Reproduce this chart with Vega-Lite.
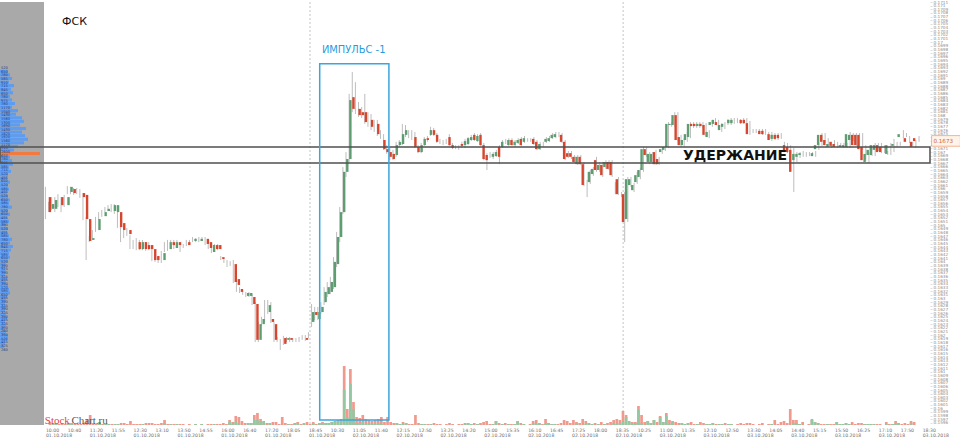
{
"$schema":"https://vega.github.io/schema/vega-lite/v6.json",
"width":930,"height":423,"autosize":"none",
"padding":{"left":0,"top":2,"right":30,"bottom":13},
"background":"#ffffff",
"config":{"view":{"stroke":null},"font":"DejaVu Sans"},
"resolve":{"scale":{"x":"independent","y":"independent"}},
"datasets":{
"candles":[
{"i":0,"o":0.16577,"c":0.16536,"h":0.16605,"l":0.16517,"v":3,"g":0},
{"i":1,"o":0.16545,"c":0.16558,"h":0.16564,"l":0.16536,"v":2,"g":2},
{"i":2,"o":0.16545,"c":0.16569,"h":0.16577,"l":0.16542,"v":2,"g":2},
{"i":3,"o":0.16566,"c":0.16566,"h":0.16577,"l":0.16536,"v":1,"g":0},
{"i":4,"o":0.16577,"c":0.16555,"h":0.16585,"l":0.16550,"v":2,"g":0},
{"i":5,"o":0.16555,"c":0.16555,"h":0.16577,"l":0.16536,"v":1,"g":0},
{"i":6,"o":0.16555,"c":0.16577,"h":0.16583,"l":0.16550,"v":2,"g":2},
{"i":7,"o":0.16591,"c":0.16605,"h":0.16607,"l":0.16585,"v":2,"g":2},
{"i":8,"o":0.16599,"c":0.16588,"h":0.16605,"l":0.16585,"v":1,"g":0},
{"i":9,"o":0.16594,"c":0.16594,"h":0.16602,"l":0.16583,"v":1,"g":0},
{"i":10,"o":0.16594,"c":0.16594,"h":0.16602,"l":0.16585,"v":1,"g":0},
{"i":11,"o":0.16588,"c":0.16577,"h":0.16599,"l":0.16575,"v":2,"g":0},
{"i":12,"o":0.16583,"c":0.16517,"h":0.16588,"l":0.16514,"v":6,"g":0},
{"i":13,"o":0.16517,"c":0.16457,"h":0.16523,"l":0.16405,"v":10,"g":0},
{"i":14,"o":0.16460,"c":0.16465,"h":0.16471,"l":0.16454,"v":2,"g":0},
{"i":15,"o":0.16476,"c":0.16476,"h":0.16487,"l":0.16465,"v":1,"g":0},
{"i":16,"o":0.16487,"c":0.16517,"h":0.16523,"l":0.16482,"v":3,"g":3},
{"i":17,"o":0.16528,"c":0.16528,"h":0.16536,"l":0.16514,"v":1,"g":0},
{"i":18,"o":0.16525,"c":0.16536,"h":0.16542,"l":0.16523,"v":1,"g":1},
{"i":19,"o":0.16539,"c":0.16545,"h":0.16550,"l":0.16536,"v":1,"g":1},
{"i":20,"o":0.16547,"c":0.16547,"h":0.16555,"l":0.16539,"v":1,"g":0},
{"i":21,"o":0.16539,"c":0.16555,"h":0.16558,"l":0.16536,"v":1,"g":1},
{"i":22,"o":0.16536,"c":0.16555,"h":0.16558,"l":0.16531,"v":1,"g":1},
{"i":23,"o":0.16536,"c":0.16495,"h":0.16555,"l":0.16493,"v":2,"g":0},
{"i":24,"o":0.16506,"c":0.16487,"h":0.16514,"l":0.16454,"v":2,"g":0},
{"i":25,"o":0.16487,"c":0.16487,"h":0.16495,"l":0.16465,"v":1,"g":0},
{"i":26,"o":0.16487,"c":0.16476,"h":0.16493,"l":0.16471,"v":4,"g":0},
{"i":27,"o":0.16454,"c":0.16454,"h":0.16473,"l":0.16435,"v":1,"g":0},
{"i":28,"o":0.16446,"c":0.16446,"h":0.16460,"l":0.16435,"v":1,"g":0},
{"i":29,"o":0.16454,"c":0.16435,"h":0.16465,"l":0.16432,"v":1,"g":0},
{"i":30,"o":0.16435,"c":0.16454,"h":0.16460,"l":0.16432,"v":1,"g":1},
{"i":31,"o":0.16454,"c":0.16435,"h":0.16460,"l":0.16432,"v":2,"g":0},
{"i":32,"o":0.16446,"c":0.16435,"h":0.16454,"l":0.16430,"v":2,"g":0},
{"i":33,"o":0.16446,"c":0.16435,"h":0.16454,"l":0.16432,"v":2,"g":0},
{"i":34,"o":0.16435,"c":0.16405,"h":0.16441,"l":0.16402,"v":1,"g":0},
{"i":35,"o":0.16416,"c":0.16405,"h":0.16427,"l":0.16400,"v":1,"g":0},
{"i":36,"o":0.16405,"c":0.16405,"h":0.16413,"l":0.16397,"v":2,"g":0},
{"i":37,"o":0.16405,"c":0.16424,"h":0.16430,"l":0.16397,"v":5,"g":2},
{"i":38,"o":0.16441,"c":0.16441,"h":0.16454,"l":0.16427,"v":1,"g":0},
{"i":39,"o":0.16435,"c":0.16454,"h":0.16460,"l":0.16430,"v":1,"g":1},
{"i":40,"o":0.16454,"c":0.16446,"h":0.16460,"l":0.16441,"v":1,"g":0},
{"i":41,"o":0.16438,"c":0.16454,"h":0.16460,"l":0.16435,"v":1,"g":1},
{"i":42,"o":0.16454,"c":0.16446,"h":0.16460,"l":0.16441,"v":1,"g":0},
{"i":43,"o":0.16438,"c":0.16438,"h":0.16446,"l":0.16427,"v":1,"g":0},
{"i":44,"o":0.16443,"c":0.16443,"h":0.16449,"l":0.16438,"v":0,"g":0},
{"i":45,"o":0.16454,"c":0.16446,"h":0.16460,"l":0.16443,"v":1,"g":0},
{"i":46,"o":0.16454,"c":0.16454,"h":0.16460,"l":0.16449,"v":0,"g":0},
{"i":47,"o":0.16457,"c":0.16463,"h":0.16468,"l":0.16454,"v":1,"g":1},
{"i":48,"o":0.16460,"c":0.16460,"h":0.16465,"l":0.16454,"v":0,"g":0},
{"i":49,"o":0.16457,"c":0.16463,"h":0.16468,"l":0.16454,"v":1,"g":1},
{"i":50,"o":0.16463,"c":0.16463,"h":0.16468,"l":0.16457,"v":0,"g":0},
{"i":51,"o":0.16463,"c":0.16449,"h":0.16468,"l":0.16446,"v":1,"g":0},
{"i":52,"o":0.16454,"c":0.16438,"h":0.16460,"l":0.16435,"v":1,"g":0},
{"i":53,"o":0.16427,"c":0.16446,"h":0.16449,"l":0.16424,"v":1,"g":1},
{"i":54,"o":0.16446,"c":0.16435,"h":0.16449,"l":0.16432,"v":1,"g":0},
{"i":55,"o":0.16446,"c":0.16435,"h":0.16449,"l":0.16432,"v":1,"g":0},
{"i":56,"o":0.16413,"c":0.16408,"h":0.16416,"l":0.16405,"v":2,"g":0},
{"i":57,"o":0.16402,"c":0.16402,"h":0.16408,"l":0.16397,"v":1,"g":0},
{"i":58,"o":0.16400,"c":0.16400,"h":0.16405,"l":0.16386,"v":5,"g":3},
{"i":59,"o":0.16394,"c":0.16394,"h":0.16402,"l":0.16389,"v":3,"g":1},
{"i":60,"o":0.16394,"c":0.16345,"h":0.16405,"l":0.16342,"v":9,"g":3},
{"i":61,"o":0.16353,"c":0.16337,"h":0.16359,"l":0.16318,"v":8,"g":2},
{"i":62,"o":0.16326,"c":0.16318,"h":0.16331,"l":0.16315,"v":4,"g":0},
{"i":63,"o":0.16315,"c":0.16315,"h":0.16320,"l":0.16310,"v":2,"g":0},
{"i":64,"o":0.16307,"c":0.16315,"h":0.16318,"l":0.16304,"v":2,"g":2},
{"i":65,"o":0.16307,"c":0.16315,"h":0.16318,"l":0.16304,"v":2,"g":2},
{"i":66,"o":0.16304,"c":0.16285,"h":0.16310,"l":0.16282,"v":10,"g":5},
{"i":67,"o":0.16285,"c":0.16187,"h":0.16290,"l":0.16181,"v":12,"g":5},
{"i":68,"o":0.16187,"c":0.16230,"h":0.16236,"l":0.16181,"v":6,"g":4},
{"i":69,"o":0.16230,"c":0.16244,"h":0.16250,"l":0.16225,"v":4,"g":3},
{"i":70,"o":0.16263,"c":0.16263,"h":0.16296,"l":0.16236,"v":2,"g":0},
{"i":71,"o":0.16263,"c":0.16282,"h":0.16296,"l":0.16258,"v":2,"g":2},
{"i":72,"o":0.16244,"c":0.16236,"h":0.16290,"l":0.16233,"v":3,"g":0},
{"i":73,"o":0.16230,"c":0.16187,"h":0.16236,"l":0.16181,"v":3,"g":0},
{"i":74,"o":0.16187,"c":0.16187,"h":0.16195,"l":0.16181,"v":1,"g":0},
{"i":75,"o":0.16181,"c":0.16181,"h":0.16189,"l":0.16159,"v":8,"g":0},
{"i":76,"o":0.16192,"c":0.16176,"h":0.16198,"l":0.16173,"v":2,"g":0},
{"i":77,"o":0.16187,"c":0.16192,"h":0.16195,"l":0.16181,"v":1,"g":1},
{"i":78,"o":0.16192,"c":0.16187,"h":0.16195,"l":0.16181,"v":1,"g":0},
{"i":79,"o":0.16187,"c":0.16187,"h":0.16192,"l":0.16181,"v":2,"g":1},
{"i":80,"o":0.16187,"c":0.16187,"h":0.16192,"l":0.16181,"v":3,"g":2},
{"i":81,"o":0.16187,"c":0.16187,"h":0.16195,"l":0.16181,"v":1,"g":0},
{"i":82,"o":0.16192,"c":0.16192,"h":0.16200,"l":0.16187,"v":2,"g":1},
{"i":83,"o":0.16192,"c":0.16187,"h":0.16200,"l":0.16184,"v":3,"g":0},
{"i":84,"o":0.16200,"c":0.16200,"h":0.16208,"l":0.16192,"v":1,"g":0},
{"i":85,"o":0.16236,"c":0.16263,"h":0.16285,"l":0.16222,"v":3,"g":2},
{"i":86,"o":0.16263,"c":0.16255,"h":0.16277,"l":0.16241,"v":1,"g":0},
{"i":87,"o":0.16244,"c":0.16263,"h":0.16277,"l":0.16241,"v":2,"g":2},
{"i":88,"o":0.16263,"c":0.16277,"h":0.16290,"l":0.16258,"v":3,"g":2},
{"i":89,"o":0.16290,"c":0.16318,"h":0.16331,"l":0.16282,"v":2,"g":2},
{"i":90,"o":0.16312,"c":0.16331,"h":0.16345,"l":0.16304,"v":2,"g":2},
{"i":91,"o":0.16318,"c":0.16345,"h":0.16359,"l":0.16312,"v":3,"g":3},
{"i":92,"o":0.16331,"c":0.16400,"h":0.16413,"l":0.16326,"v":4,"g":3},
{"i":93,"o":0.16394,"c":0.16468,"h":0.16482,"l":0.16386,"v":5,"g":4},
{"i":94,"o":0.16468,"c":0.16536,"h":0.16550,"l":0.16454,"v":6,"g":4},
{"i":95,"o":0.16536,"c":0.16646,"h":0.16659,"l":0.16531,"v":59,"g":35},
{"i":96,"o":0.16646,"c":0.16681,"h":0.16700,"l":0.16632,"v":16,"g":8},
{"i":97,"o":0.16681,"c":0.16842,"h":0.16859,"l":0.16673,"v":56,"g":41},
{"i":98,"o":0.16850,"c":0.16818,"h":0.16919,"l":0.16809,"v":23,"g":16},
{"i":99,"o":0.16818,"c":0.16818,"h":0.16891,"l":0.16804,"v":8,"g":2},
{"i":100,"o":0.16818,"c":0.16801,"h":0.16837,"l":0.16796,"v":7,"g":2},
{"i":101,"o":0.16809,"c":0.16801,"h":0.16823,"l":0.16793,"v":10,"g":3},
{"i":102,"o":0.16809,"c":0.16782,"h":0.16859,"l":0.16777,"v":6,"g":1},
{"i":103,"o":0.16782,"c":0.16782,"h":0.16809,"l":0.16769,"v":5,"g":2},
{"i":104,"o":0.16788,"c":0.16769,"h":0.16804,"l":0.16760,"v":4,"g":1},
{"i":105,"o":0.16769,"c":0.16769,"h":0.16788,"l":0.16755,"v":5,"g":1},
{"i":106,"o":0.16777,"c":0.16749,"h":0.16788,"l":0.16744,"v":6,"g":2},
{"i":107,"o":0.16747,"c":0.16747,"h":0.16760,"l":0.16736,"v":8,"g":1},
{"i":108,"o":0.16733,"c":0.16708,"h":0.16749,"l":0.16706,"v":3,"g":0},
{"i":109,"o":0.16708,"c":0.16700,"h":0.16719,"l":0.16695,"v":8,"g":0},
{"i":110,"o":0.16700,"c":0.16687,"h":0.16714,"l":0.16678,"v":3,"g":0},
{"i":111,"o":0.16695,"c":0.16681,"h":0.16706,"l":0.16678,"v":2,"g":0},
{"i":112,"o":0.16692,"c":0.16719,"h":0.16728,"l":0.16687,"v":2,"g":2},
{"i":113,"o":0.16719,"c":0.16728,"h":0.16733,"l":0.16714,"v":1,"g":1},
{"i":114,"o":0.16722,"c":0.16749,"h":0.16777,"l":0.16719,"v":3,"g":1},
{"i":115,"o":0.16747,"c":0.16760,"h":0.16774,"l":0.16741,"v":2,"g":2},
{"i":116,"o":0.16747,"c":0.16747,"h":0.16760,"l":0.16738,"v":1,"g":0},
{"i":117,"o":0.16747,"c":0.16747,"h":0.16760,"l":0.16733,"v":1,"g":0},
{"i":118,"o":0.16741,"c":0.16714,"h":0.16755,"l":0.16711,"v":10,"g":0},
{"i":119,"o":0.16714,"c":0.16700,"h":0.16719,"l":0.16697,"v":2,"g":0},
{"i":120,"o":0.16700,"c":0.16719,"h":0.16725,"l":0.16697,"v":1,"g":1},
{"i":121,"o":0.16719,"c":0.16736,"h":0.16741,"l":0.16717,"v":1,"g":1},
{"i":122,"o":0.16738,"c":0.16733,"h":0.16744,"l":0.16728,"v":1,"g":0},
{"i":123,"o":0.16747,"c":0.16760,"h":0.16769,"l":0.16744,"v":1,"g":1},
{"i":124,"o":0.16760,"c":0.16747,"h":0.16766,"l":0.16744,"v":2,"g":0},
{"i":125,"o":0.16747,"c":0.16728,"h":0.16752,"l":0.16725,"v":1,"g":0},
{"i":126,"o":0.16728,"c":0.16728,"h":0.16736,"l":0.16722,"v":1,"g":0},
{"i":127,"o":0.16728,"c":0.16728,"h":0.16733,"l":0.16719,"v":0,"g":0},
{"i":128,"o":0.16728,"c":0.16728,"h":0.16736,"l":0.16722,"v":1,"g":0},
{"i":129,"o":0.16741,"c":0.16719,"h":0.16749,"l":0.16717,"v":2,"g":0},
{"i":130,"o":0.16719,"c":0.16711,"h":0.16725,"l":0.16708,"v":1,"g":0},
{"i":131,"o":0.16714,"c":0.16714,"h":0.16719,"l":0.16708,"v":0,"g":0},
{"i":132,"o":0.16714,"c":0.16714,"h":0.16719,"l":0.16706,"v":1,"g":0},
{"i":133,"o":0.16722,"c":0.16717,"h":0.16728,"l":0.16711,"v":1,"g":0},
{"i":134,"o":0.16719,"c":0.16730,"h":0.16736,"l":0.16711,"v":2,"g":1},
{"i":135,"o":0.16722,"c":0.16738,"h":0.16741,"l":0.16719,"v":2,"g":2},
{"i":136,"o":0.16733,"c":0.16741,"h":0.16747,"l":0.16730,"v":1,"g":1},
{"i":137,"o":0.16747,"c":0.16733,"h":0.16752,"l":0.16730,"v":2,"g":0},
{"i":138,"o":0.16730,"c":0.16744,"h":0.16749,"l":0.16728,"v":1,"g":1},
{"i":139,"o":0.16747,"c":0.16719,"h":0.16752,"l":0.16717,"v":2,"g":0},
{"i":140,"o":0.16719,"c":0.16681,"h":0.16725,"l":0.16678,"v":3,"g":0},
{"i":141,"o":0.16692,"c":0.16678,"h":0.16697,"l":0.16651,"v":4,"g":0},
{"i":142,"o":0.16692,"c":0.16692,"h":0.16700,"l":0.16684,"v":1,"g":0},
{"i":143,"o":0.16687,"c":0.16695,"h":0.16700,"l":0.16681,"v":1,"g":1},
{"i":144,"o":0.16689,"c":0.16700,"h":0.16706,"l":0.16687,"v":4,"g":4},
{"i":145,"o":0.16714,"c":0.16687,"h":0.16719,"l":0.16667,"v":2,"g":0},
{"i":146,"o":0.16714,"c":0.16728,"h":0.16733,"l":0.16711,"v":1,"g":1},
{"i":147,"o":0.16728,"c":0.16728,"h":0.16736,"l":0.16722,"v":2,"g":0},
{"i":148,"o":0.16719,"c":0.16733,"h":0.16738,"l":0.16717,"v":1,"g":1},
{"i":149,"o":0.16733,"c":0.16719,"h":0.16738,"l":0.16717,"v":1,"g":0},
{"i":150,"o":0.16719,"c":0.16728,"h":0.16733,"l":0.16714,"v":1,"g":1},
{"i":151,"o":0.16725,"c":0.16733,"h":0.16738,"l":0.16722,"v":4,"g":4},
{"i":152,"o":0.16736,"c":0.16719,"h":0.16741,"l":0.16717,"v":2,"g":0},
{"i":153,"o":0.16728,"c":0.16738,"h":0.16744,"l":0.16725,"v":1,"g":1},
{"i":154,"o":0.16733,"c":0.16733,"h":0.16738,"l":0.16728,"v":0,"g":0},
{"i":155,"o":0.16733,"c":0.16733,"h":0.16738,"l":0.16728,"v":1,"g":0},
{"i":156,"o":0.16736,"c":0.16722,"h":0.16741,"l":0.16719,"v":4,"g":2},
{"i":157,"o":0.16728,"c":0.16708,"h":0.16733,"l":0.16706,"v":5,"g":1},
{"i":158,"o":0.16708,"c":0.16722,"h":0.16728,"l":0.16706,"v":2,"g":2},
{"i":159,"o":0.16719,"c":0.16719,"h":0.16728,"l":0.16714,"v":1,"g":0},
{"i":160,"o":0.16728,"c":0.16736,"h":0.16741,"l":0.16725,"v":6,"g":1},
{"i":161,"o":0.16730,"c":0.16738,"h":0.16744,"l":0.16728,"v":2,"g":2},
{"i":162,"o":0.16738,"c":0.16747,"h":0.16752,"l":0.16736,"v":1,"g":1},
{"i":163,"o":0.16741,"c":0.16749,"h":0.16755,"l":0.16738,"v":1,"g":1},
{"i":164,"o":0.16747,"c":0.16747,"h":0.16755,"l":0.16741,"v":1,"g":0},
{"i":165,"o":0.16747,"c":0.16728,"h":0.16752,"l":0.16725,"v":2,"g":0},
{"i":166,"o":0.16728,"c":0.16681,"h":0.16733,"l":0.16678,"v":5,"g":0},
{"i":167,"o":0.16697,"c":0.16687,"h":0.16703,"l":0.16684,"v":4,"g":0},
{"i":168,"o":0.16697,"c":0.16687,"h":0.16703,"l":0.16681,"v":2,"g":0},
{"i":169,"o":0.16687,"c":0.16673,"h":0.16692,"l":0.16670,"v":5,"g":0},
{"i":170,"o":0.16667,"c":0.16687,"h":0.16692,"l":0.16665,"v":3,"g":2},
{"i":171,"o":0.16687,"c":0.16667,"h":0.16692,"l":0.16665,"v":2,"g":0},
{"i":172,"o":0.16667,"c":0.16610,"h":0.16673,"l":0.16607,"v":6,"g":0},
{"i":173,"o":0.16613,"c":0.16613,"h":0.16624,"l":0.16577,"v":4,"g":1},
{"i":174,"o":0.16618,"c":0.16646,"h":0.16651,"l":0.16613,"v":2,"g":2},
{"i":175,"o":0.16640,"c":0.16654,"h":0.16659,"l":0.16635,"v":1,"g":1},
{"i":176,"o":0.16678,"c":0.16651,"h":0.16687,"l":0.16646,"v":2,"g":0},
{"i":177,"o":0.16651,"c":0.16665,"h":0.16673,"l":0.16646,"v":1,"g":1},
{"i":178,"o":0.16665,"c":0.16637,"h":0.16673,"l":0.16632,"v":3,"g":0},
{"i":179,"o":0.16659,"c":0.16673,"h":0.16678,"l":0.16654,"v":1,"g":1},
{"i":180,"o":0.16673,"c":0.16654,"h":0.16678,"l":0.16651,"v":2,"g":0},
{"i":181,"o":0.16673,"c":0.16637,"h":0.16678,"l":0.16632,"v":3,"g":0},
{"i":182,"o":0.16605,"c":0.16605,"h":0.16618,"l":0.16585,"v":5,"g":2},
{"i":183,"o":0.16626,"c":0.16585,"h":0.16632,"l":0.16583,"v":6,"g":1},
{"i":184,"o":0.16585,"c":0.16585,"h":0.16591,"l":0.16577,"v":5,"g":2},
{"i":185,"o":0.16585,"c":0.16509,"h":0.16591,"l":0.16454,"v":14,"g":3},
{"i":186,"o":0.16517,"c":0.16626,"h":0.16632,"l":0.16509,"v":10,"g":8},
{"i":187,"o":0.16610,"c":0.16626,"h":0.16632,"l":0.16605,"v":4,"g":3},
{"i":188,"o":0.16596,"c":0.16610,"h":0.16616,"l":0.16591,"v":3,"g":2},
{"i":189,"o":0.16618,"c":0.16637,"h":0.16646,"l":0.16613,"v":3,"g":2},
{"i":190,"o":0.16632,"c":0.16651,"h":0.16657,"l":0.16626,"v":19,"g":15},
{"i":191,"o":0.16651,"c":0.16708,"h":0.16714,"l":0.16646,"v":10,"g":2},
{"i":192,"o":0.16708,"c":0.16692,"h":0.16714,"l":0.16687,"v":3,"g":0},
{"i":193,"o":0.16673,"c":0.16695,"h":0.16700,"l":0.16667,"v":4,"g":4},
{"i":194,"o":0.16673,"c":0.16695,"h":0.16700,"l":0.16667,"v":2,"g":2},
{"i":195,"o":0.16700,"c":0.16667,"h":0.16706,"l":0.16665,"v":5,"g":5},
{"i":196,"o":0.16681,"c":0.16667,"h":0.16687,"l":0.16665,"v":3,"g":0},
{"i":197,"o":0.16700,"c":0.16708,"h":0.16714,"l":0.16695,"v":9,"g":8},
{"i":198,"o":0.16706,"c":0.16714,"h":0.16719,"l":0.16703,"v":3,"g":3},
{"i":199,"o":0.16714,"c":0.16777,"h":0.16782,"l":0.16711,"v":12,"g":9},
{"i":200,"o":0.16774,"c":0.16777,"h":0.16782,"l":0.16769,"v":5,"g":1},
{"i":201,"o":0.16774,"c":0.16801,"h":0.16809,"l":0.16769,"v":4,"g":3},
{"i":202,"o":0.16801,"c":0.16733,"h":0.16809,"l":0.16730,"v":3,"g":0},
{"i":203,"o":0.16741,"c":0.16719,"h":0.16747,"l":0.16714,"v":2,"g":0},
{"i":204,"o":0.16719,"c":0.16733,"h":0.16738,"l":0.16714,"v":2,"g":2},
{"i":205,"o":0.16733,"c":0.16749,"h":0.16755,"l":0.16728,"v":1,"g":1},
{"i":206,"o":0.16741,"c":0.16777,"h":0.16782,"l":0.16738,"v":2,"g":2},
{"i":207,"o":0.16777,"c":0.16771,"h":0.16782,"l":0.16766,"v":3,"g":0},
{"i":208,"o":0.16777,"c":0.16771,"h":0.16782,"l":0.16766,"v":1,"g":0},
{"i":209,"o":0.16771,"c":0.16777,"h":0.16782,"l":0.16766,"v":1,"g":1},
{"i":210,"o":0.16777,"c":0.16771,"h":0.16782,"l":0.16766,"v":3,"g":0},
{"i":211,"o":0.16774,"c":0.16747,"h":0.16779,"l":0.16744,"v":2,"g":0},
{"i":212,"o":0.16741,"c":0.16755,"h":0.16760,"l":0.16738,"v":1,"g":1},
{"i":213,"o":0.16774,"c":0.16782,"h":0.16788,"l":0.16769,"v":1,"g":1},
{"i":214,"o":0.16777,"c":0.16788,"h":0.16793,"l":0.16774,"v":2,"g":2},
{"i":215,"o":0.16782,"c":0.16774,"h":0.16788,"l":0.16769,"v":1,"g":0},
{"i":216,"o":0.16760,"c":0.16774,"h":0.16779,"l":0.16755,"v":1,"g":1},
{"i":217,"o":0.16769,"c":0.16777,"h":0.16782,"l":0.16763,"v":1,"g":1},
{"i":218,"o":0.16782,"c":0.16782,"h":0.16790,"l":0.16774,"v":2,"g":0},
{"i":219,"o":0.16779,"c":0.16788,"h":0.16793,"l":0.16774,"v":1,"g":1},
{"i":220,"o":0.16779,"c":0.16788,"h":0.16793,"l":0.16777,"v":1,"g":1},
{"i":221,"o":0.16788,"c":0.16788,"h":0.16793,"l":0.16779,"v":0,"g":0},
{"i":222,"o":0.16782,"c":0.16782,"h":0.16790,"l":0.16777,"v":1,"g":0},
{"i":223,"o":0.16788,"c":0.16779,"h":0.16793,"l":0.16777,"v":2,"g":0},
{"i":224,"o":0.16788,"c":0.16779,"h":0.16793,"l":0.16777,"v":1,"g":0},
{"i":225,"o":0.16779,"c":0.16749,"h":0.16785,"l":0.16747,"v":2,"g":0},
{"i":226,"o":0.16758,"c":0.16758,"h":0.16763,"l":0.16752,"v":2,"g":0},
{"i":227,"o":0.16758,"c":0.16758,"h":0.16763,"l":0.16752,"v":1,"g":0},
{"i":228,"o":0.16758,"c":0.16758,"h":0.16763,"l":0.16752,"v":0,"g":0},
{"i":229,"o":0.16758,"c":0.16749,"h":0.16763,"l":0.16747,"v":1,"g":0},
{"i":230,"o":0.16758,"c":0.16749,"h":0.16763,"l":0.16747,"v":2,"g":0},
{"i":231,"o":0.16749,"c":0.16749,"h":0.16755,"l":0.16744,"v":0,"g":0},
{"i":232,"o":0.16749,"c":0.16733,"h":0.16755,"l":0.16730,"v":1,"g":0},
{"i":233,"o":0.16736,"c":0.16747,"h":0.16752,"l":0.16733,"v":1,"g":1},
{"i":234,"o":0.16747,"c":0.16736,"h":0.16752,"l":0.16733,"v":5,"g":0},
{"i":235,"o":0.16747,"c":0.16738,"h":0.16752,"l":0.16736,"v":1,"g":0},
{"i":236,"o":0.16719,"c":0.16719,"h":0.16728,"l":0.16714,"v":3,"g":0},
{"i":237,"o":0.16719,"c":0.16700,"h":0.16725,"l":0.16697,"v":4,"g":0},
{"i":238,"o":0.16714,"c":0.16700,"h":0.16719,"l":0.16697,"v":2,"g":0},
{"i":239,"o":0.16706,"c":0.16646,"h":0.16711,"l":0.16591,"v":16,"g":0},
{"i":240,"o":0.16678,"c":0.16695,"h":0.16700,"l":0.16673,"v":5,"g":2},
{"i":241,"o":0.16687,"c":0.16695,"h":0.16700,"l":0.16684,"v":5,"g":2},
{"i":242,"o":0.16692,"c":0.16697,"h":0.16703,"l":0.16687,"v":1,"g":1},
{"i":243,"o":0.16695,"c":0.16695,"h":0.16700,"l":0.16687,"v":3,"g":0},
{"i":244,"o":0.16695,"c":0.16695,"h":0.16700,"l":0.16689,"v":0,"g":0},
{"i":245,"o":0.16695,"c":0.16695,"h":0.16700,"l":0.16689,"v":1,"g":0},
{"i":246,"o":0.16689,"c":0.16697,"h":0.16703,"l":0.16687,"v":6,"g":5},
{"i":247,"o":0.16708,"c":0.16719,"h":0.16725,"l":0.16706,"v":3,"g":3},
{"i":248,"o":0.16719,"c":0.16747,"h":0.16752,"l":0.16717,"v":2,"g":2},
{"i":249,"o":0.16747,"c":0.16728,"h":0.16752,"l":0.16725,"v":1,"g":0},
{"i":250,"o":0.16733,"c":0.16719,"h":0.16738,"l":0.16717,"v":1,"g":0},
{"i":251,"o":0.16714,"c":0.16722,"h":0.16728,"l":0.16711,"v":1,"g":1},
{"i":252,"o":0.16728,"c":0.16717,"h":0.16733,"l":0.16714,"v":1,"g":0},
{"i":253,"o":0.16722,"c":0.16714,"h":0.16728,"l":0.16711,"v":1,"g":0},
{"i":254,"o":0.16719,"c":0.16719,"h":0.16725,"l":0.16714,"v":3,"g":3},
{"i":255,"o":0.16714,"c":0.16719,"h":0.16725,"l":0.16711,"v":1,"g":1},
{"i":256,"o":0.16714,"c":0.16719,"h":0.16725,"l":0.16711,"v":1,"g":1},
{"i":257,"o":0.16714,"c":0.16749,"h":0.16755,"l":0.16711,"v":2,"g":2},
{"i":258,"o":0.16733,"c":0.16747,"h":0.16752,"l":0.16730,"v":1,"g":1},
{"i":259,"o":0.16747,"c":0.16719,"h":0.16752,"l":0.16717,"v":3,"g":0},
{"i":260,"o":0.16747,"c":0.16719,"h":0.16752,"l":0.16717,"v":1,"g":0},
{"i":261,"o":0.16747,"c":0.16708,"h":0.16752,"l":0.16706,"v":2,"g":0},
{"i":262,"o":0.16714,"c":0.16678,"h":0.16719,"l":0.16676,"v":2,"g":0},
{"i":263,"o":0.16673,"c":0.16695,"h":0.16700,"l":0.16670,"v":1,"g":1},
{"i":264,"o":0.16692,"c":0.16706,"h":0.16711,"l":0.16689,"v":1,"g":1},
{"i":265,"o":0.16692,"c":0.16719,"h":0.16725,"l":0.16689,"v":1,"g":1},
{"i":266,"o":0.16706,"c":0.16719,"h":0.16725,"l":0.16703,"v":1,"g":1},
{"i":267,"o":0.16719,"c":0.16700,"h":0.16725,"l":0.16697,"v":1,"g":0},
{"i":268,"o":0.16714,"c":0.16700,"h":0.16719,"l":0.16697,"v":1,"g":0},
{"i":269,"o":0.16697,"c":0.16697,"h":0.16703,"l":0.16692,"v":0,"g":0},
{"i":270,"o":0.16695,"c":0.16719,"h":0.16725,"l":0.16692,"v":3,"g":1},
{"i":271,"o":0.16719,"c":0.16719,"h":0.16736,"l":0.16700,"v":1,"g":0},
{"i":272,"o":0.16717,"c":0.16722,"h":0.16728,"l":0.16714,"v":1,"g":1},
{"i":273,"o":0.16722,"c":0.16722,"h":0.16728,"l":0.16717,"v":4,"g":1},
{"i":274,"o":0.16741,"c":0.16749,"h":0.16760,"l":0.16738,"v":2,"g":2},
{"i":275,"o":0.16747,"c":0.16747,"h":0.16752,"l":0.16741,"v":1,"g":0},
{"i":276,"o":0.16738,"c":0.16728,"h":0.16744,"l":0.16725,"v":2,"g":0},
{"i":277,"o":0.16722,"c":0.16722,"h":0.16728,"l":0.16717,"v":1,"g":0},
{"i":278,"o":0.16728,"c":0.16714,"h":0.16733,"l":0.16711,"v":4,"g":2},
{"i":279,"o":0.16738,"c":0.16730,"h":0.16744,"l":0.16728,"v":3,"g":0}
],
"profile":[
{"p":0.1693,"v":520},{"p":0.1692,"v":650},{"p":0.1691,"v":780},{"p":0.1690,"v":585},{"p":0.1689,"v":910},{"p":0.1688,"v":715},{"p":0.1687,"v":845},{"p":0.1686,"v":650},{"p":0.1685,"v":780},{"p":0.1684,"v":975},{"p":0.1683,"v":780},{"p":0.1682,"v":1170},{"p":0.1681,"v":1040},{"p":0.1680,"v":1430},{"p":0.1679,"v":1560},{"p":0.1678,"v":1300},{"p":0.1677,"v":1690},{"p":0.1676,"v":1430},{"p":0.1675,"v":1625},{"p":0.1674,"v":1820},{"p":0.1673,"v":1560},{"p":0.1672,"v":1170},{"p":0.1671,"v":910},{"p":0.1670,"v":2600,"poc":1},{"p":0.1669,"v":650},{"p":0.1668,"v":780},{"p":0.1667,"v":845},{"p":0.1666,"v":585},{"p":0.1665,"v":715},{"p":0.1664,"v":520},{"p":0.1663,"v":455},{"p":0.1662,"v":650},{"p":0.1661,"v":520},{"p":0.1660,"v":585},{"p":0.1659,"v":455},{"p":0.1658,"v":520},{"p":0.1657,"v":650},{"p":0.1656,"v":585},{"p":0.1655,"v":780},{"p":0.1654,"v":520},{"p":0.1653,"v":650},{"p":0.1652,"v":455},{"p":0.1651,"v":585},{"p":0.1650,"v":390},{"p":0.1649,"v":520},{"p":0.1648,"v":455},{"p":0.1647,"v":585},{"p":0.1646,"v":780},{"p":0.1645,"v":650},{"p":0.1644,"v":845},{"p":0.1643,"v":715},{"p":0.1642,"v":585},{"p":0.1641,"v":650},{"p":0.1640,"v":520},{"p":0.1639,"v":390},{"p":0.1638,"v":325},{"p":0.1637,"v":390},{"p":0.1636,"v":325},{"p":0.1635,"v":455},{"p":0.1634,"v":390},{"p":0.1633,"v":520},{"p":0.1632,"v":585},{"p":0.1631,"v":650},{"p":0.1630,"v":455},{"p":0.1629,"v":390},{"p":0.1628,"v":325},{"p":0.1627,"v":390},{"p":0.1626,"v":325},{"p":0.1625,"v":390},{"p":0.1624,"v":455},{"p":0.1623,"v":325},{"p":0.1622,"v":390},{"p":0.1621,"v":260},{"p":0.1620,"v":390},{"p":0.1619,"v":520},{"p":0.1618,"v":455},{"p":0.1617,"v":325},{"p":0.1616,"v":260}
]
},
"layer":[
{"data":{"values":[{"a":-14.5,"b":-0.45,"lo":0.159544,"hi":0.1711}]},
 "mark":{"type":"rect","fill":"#a9a9a9"},
 "encoding":{"x":{"field":"a","type":"quantitative","scale":{"domain":[-14.5,282.5],"nice":false,"zero":false},"axis":null},"x2":{"field":"b"},
  "y":{"field":"lo","type":"quantitative","scale":{"domain":[0.159544,0.1711],"nice":false,"zero":false},"axis":null},"y2":{"field":"hi"}}},
{"data":{"name":"profile"},
 "mark":{"type":"bar","orient":"horizontal","size":3.1},
 "encoding":{"x":{"field":"v","type":"quantitative","scale":{"domain":[0,60450],"nice":false},"axis":null},
  "y":{"field":"p","type":"quantitative","scale":{"domain":[0.159544,0.1711],"nice":false,"zero":false},"axis":null},
  "color":{"condition":{"test":"datum.poc==1","value":"#f27a3e"},"value":"#5d9cf0"}}},
{"data":{"name":"profile"},
 "mark":{"type":"text","align":"left","baseline":"middle","fontSize":3.6,"dx":1,"color":"#23407e"},
 "encoding":{"x":{"datum":0,"type":"quantitative","scale":{"domain":[0,60450],"nice":false},"axis":null},
  "y":{"field":"p","type":"quantitative","scale":{"domain":[0.159544,0.1711],"nice":false,"zero":false},"axis":null},
  "text":{"field":"v","type":"quantitative","format":"d"}}},
{"data":{"values":[{"d":84.5},{"d":184.5}]},
 "mark":{"type":"rule","color":"#c4c4c4","strokeDash":[2,2],"strokeWidth":1},
 "encoding":{"x":{"field":"d","type":"quantitative","scale":{"domain":[-14.5,282.5],"nice":false,"zero":false},"axis":null}}},
{"data":{"name":"candles"},
 "mark":{"type":"bar","orient":"vertical","size":2.7,"color":"#f09a8e"},
 "encoding":{"x":{"field":"i","type":"quantitative","scale":{"domain":[-14.5,282.5],"nice":false,"zero":false},"axis":null},
  "y":{"field":"v","type":"quantitative","scale":{"domain":[0,423],"nice":false},"axis":null}}},
{"data":{"name":"candles"},
 "mark":{"type":"bar","orient":"vertical","size":2.7,"color":"#94c8a3"},
 "encoding":{"x":{"field":"i","type":"quantitative","scale":{"domain":[-14.5,282.5],"nice":false,"zero":false},"axis":null},
  "y":{"field":"g","type":"quantitative","scale":{"domain":[0,423],"nice":false},"axis":null}}},
{"data":{"name":"candles"},
 "mark":{"type":"rule","color":"#bdbdbd","strokeWidth":1},
 "encoding":{"x":{"field":"i","type":"quantitative","scale":{"domain":[-14.5,282.5],"nice":false,"zero":false},
   "axis":{"title":null,"grid":false,"domain":false,"ticks":false,"labelAlign":"left","labelBaseline":"top","labelFontSize":4.6,"labelLineHeight":5.6,"labelColor":"#6f6f6f","labelPadding":2,"labelOverlap":false,"labelFlush":false,
    "values":[0,7,14,21,28,35,42,49,56,63,70,77,84,91,98,105,112,119,126,133,140,147,154,161,168,175,182,189,196,203,210,217,224,231,238,245,252,259,266,273,280],
    "labelExpr":"split(['10:00|01.10.2018','10:40','11:20|01.10.2018','11:55','12:30|01.10.2018','13:10','13:50|01.10.2018','14:55','16:00|01.10.2018','16:40','17:20|01.10.2018','18:05','18:45|01.10.2018','10:30','11:05|02.10.2018','11:40','12:15|02.10.2018','12:50','13:25|02.10.2018','14:20','15:00|02.10.2018','15:35','16:10|02.10.2018','16:45','17:25|02.10.2018','18:00','18:35|02.10.2018','10:25','11:00|03.10.2018','11:35','12:10|03.10.2018','12:50','13:30|03.10.2018','14:05','14:40|03.10.2018','15:15','15:50|03.10.2018','16:25','17:10|03.10.2018','17:50','18:30|03.10.2018'][round(datum.value/7)], '|')"}},
  "y":{"field":"l","type":"quantitative","scale":{"domain":[0.159544,0.1711],"nice":false,"zero":false},
   "axis":{"orient":"right","title":null,"grid":false,"domain":false,"tickCount":116,"labelExpr":"abs(datum.value-0.1673)<0.00001 ? '' : format(datum.value, '.4~f')","labelFontSize":4.2,"labelColor":"#8c8c8c","tickSize":2,"tickColor":"#c8c8c8","tickWidth":0.6,"labelPadding":1,"labelOverlap":false,"labelFlush":false}},
  "y2":{"field":"h"}}},
{"data":{"name":"candles"},
 "mark":{"type":"bar","orient":"vertical","size":2.4},
 "encoding":{"x":{"field":"i","type":"quantitative","scale":{"domain":[-14.5,282.5],"nice":false,"zero":false},"axis":null},
  "y":{"field":"o","type":"quantitative","scale":{"domain":[0.159544,0.1711],"nice":false,"zero":false},"axis":null},
  "y2":{"field":"c"},
  "color":{"condition":{"test":"datum.c < datum.o","value":"#d6462f"},"value":"#5e9c71"}}},
{"data":{"values":[{"a":-14.5,"b":282.5,"lo":0.1667,"hi":0.16714}]},
 "mark":{"type":"rect","fill":"#ffffff","fillOpacity":0,"stroke":"#505050","strokeWidth":1.5},
 "encoding":{"x":{"field":"a","type":"quantitative","scale":{"domain":[-14.5,282.5],"nice":false,"zero":false},"axis":null},"x2":{"field":"b"},
  "y":{"field":"lo","type":"quantitative","scale":{"domain":[0.159544,0.1711],"nice":false,"zero":false},"axis":null},"y2":{"field":"hi"}}},
{"data":{"values":[{"a":87.6,"b":109.7,"lo":0.15968,"hi":0.16941}]},
 "mark":{"type":"rect","fill":"#ffffff","fillOpacity":0,"stroke":"#3aa6de","strokeWidth":1.5},
 "encoding":{"x":{"field":"a","type":"quantitative","scale":{"domain":[-14.5,282.5],"nice":false,"zero":false},"axis":null},"x2":{"field":"b"},
  "y":{"field":"lo","type":"quantitative","scale":{"domain":[0.159544,0.1711],"nice":false,"zero":false},"axis":null},"y2":{"field":"hi"}}},
{"data":{"values":[{"x":5.3,"y":0.17055,"t":"ФСК"}]},
 "mark":{"type":"text","align":"left","baseline":"middle","fontSize":11,"color":"#111111"},
 "encoding":{"x":{"field":"x","type":"quantitative","scale":{"domain":[-14.5,282.5],"nice":false,"zero":false},"axis":null},
  "y":{"field":"y","type":"quantitative","scale":{"domain":[0.159544,0.1711],"nice":false,"zero":false},"axis":null},"text":{"field":"t"}}},
{"data":{"values":[{"x":88.3,"y":0.16978,"t":"ИМПУЛЬС -1"}]},
 "mark":{"type":"text","align":"left","baseline":"middle","fontSize":11,"font":"Liberation Sans Narrow, DejaVu Sans Condensed, Liberation Sans","color":"#1f9de0"},
 "encoding":{"x":{"field":"x","type":"quantitative","scale":{"domain":[-14.5,282.5],"nice":false,"zero":false},"axis":null},
  "y":{"field":"y","type":"quantitative","scale":{"domain":[0.159544,0.1711],"nice":false,"zero":false},"axis":null},"text":{"field":"t"}}},
{"data":{"values":[{"x":203.6,"y":0.16689,"t":"УДЕРЖАНИЕ"}]},
 "mark":{"type":"text","align":"left","baseline":"middle","fontSize":14,"fontWeight":"bold","color":"#111111"},
 "encoding":{"x":{"field":"x","type":"quantitative","scale":{"domain":[-14.5,282.5],"nice":false,"zero":false},"axis":null},
  "y":{"field":"y","type":"quantitative","scale":{"domain":[0.159544,0.1711],"nice":false,"zero":false},"axis":null},"text":{"field":"t"}}},
{"data":{"values":[{"x":-0.2,"y":0.15966,"t":"Stock"}]},
 "mark":{"type":"text","align":"left","baseline":"middle","fontSize":11,"font":"Liberation Serif","color":"#e0463a"},
 "encoding":{"x":{"field":"x","type":"quantitative","scale":{"domain":[-14.5,282.5],"nice":false,"zero":false},"axis":null},
  "y":{"field":"y","type":"quantitative","scale":{"domain":[0.159544,0.1711],"nice":false,"zero":false},"axis":null},"text":{"field":"t"}}},
{"data":{"values":[{"x":8.3,"y":0.15966,"t":"Chart.ru"}]},
 "mark":{"type":"text","align":"left","baseline":"middle","fontSize":11,"font":"Liberation Serif","color":"#555555"},
 "encoding":{"x":{"field":"x","type":"quantitative","scale":{"domain":[-14.5,282.5],"nice":false,"zero":false},"axis":null},
  "y":{"field":"y","type":"quantitative","scale":{"domain":[0.159544,0.1711],"nice":false,"zero":false},"axis":null},"text":{"field":"t"}}},
{"data":{"values":[{"a":283.0,"b":292.2,"lo":0.16716,"hi":0.16745}]},
 "mark":{"type":"rect","fill":"#fff3ea","stroke":"#f0a27a","strokeWidth":0.8},
 "encoding":{"x":{"field":"a","type":"quantitative","scale":{"domain":[-14.5,282.5],"nice":false,"zero":false},"axis":null},"x2":{"field":"b"},
  "y":{"field":"lo","type":"quantitative","scale":{"domain":[0.159544,0.1711],"nice":false,"zero":false},"axis":null},"y2":{"field":"hi"}}},
{"data":{"values":[{"x":283.6,"y":0.1673,"t":"0.1673"}]},
 "mark":{"type":"text","align":"left","baseline":"middle","fontSize":5.6,"color":"#c8693c"},
 "encoding":{"x":{"field":"x","type":"quantitative","scale":{"domain":[-14.5,282.5],"nice":false,"zero":false},"axis":null},
  "y":{"field":"y","type":"quantitative","scale":{"domain":[0.159544,0.1711],"nice":false,"zero":false},"axis":null},"text":{"field":"t"}}}
]
}
